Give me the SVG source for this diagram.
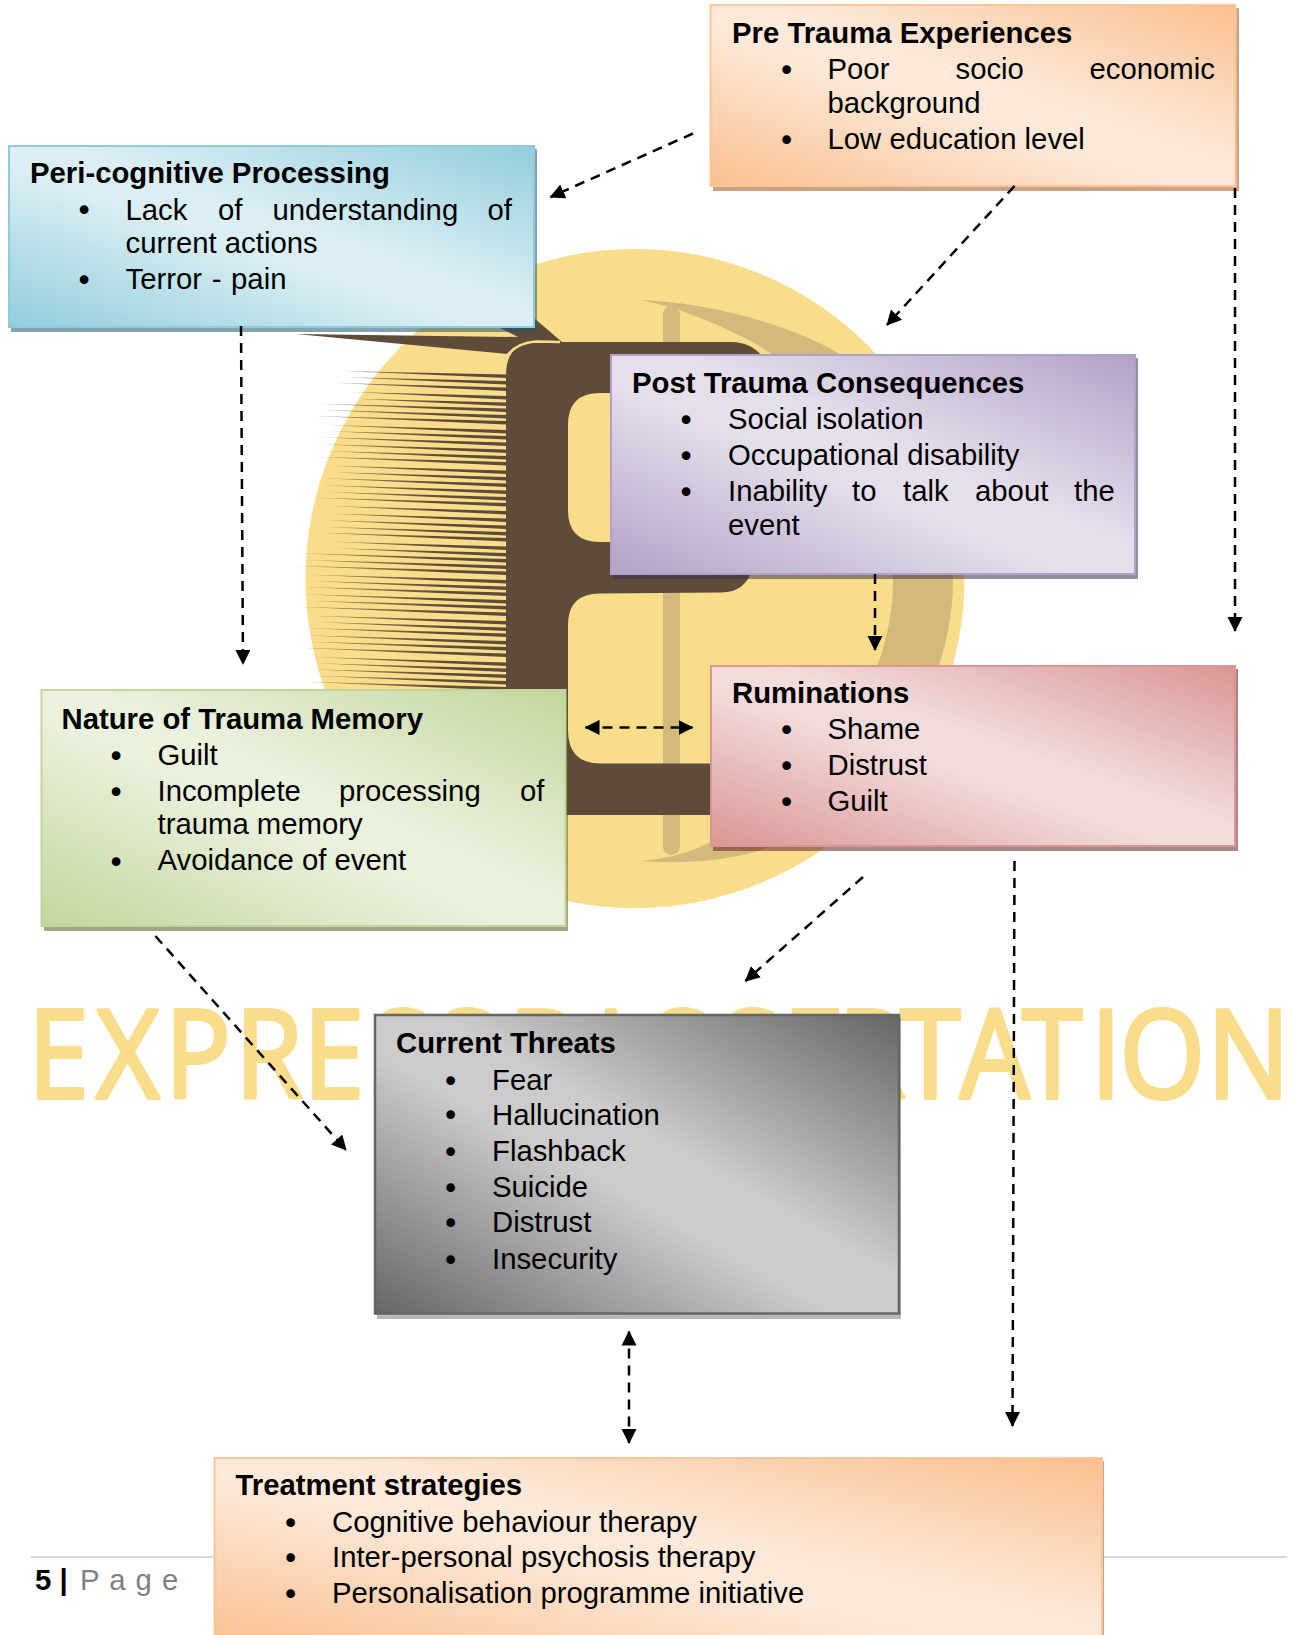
<svg xmlns="http://www.w3.org/2000/svg" width="1294" height="1635" viewBox="0 0 1294 1635">
<style>
text{font-family:"Liberation Sans",Arial,sans-serif;font-size:29.3px;fill:#000}
.t{font-weight:bold}
text.b{font-family:"DejaVu Sans",sans-serif;text-anchor:middle;font-size:30px}
.c{fill:none;stroke:#000;stroke-width:2.5;stroke-dasharray:10 7}
text.mark{font-family:"Open Sans",sans-serif;font-size:122px;fill:#f9dd8b;stroke:#f9dd8b;stroke-width:4;stroke-linejoin:round}
</style>
<defs>
<linearGradient id="gO" x1="0" y1="1" x2="1" y2="0"><stop offset="0" stop-color="#fabf8f"/><stop offset=".44" stop-color="#fde9d9"/><stop offset=".56" stop-color="#fde9d9"/><stop offset="1" stop-color="#fabf8f"/></linearGradient>
<linearGradient id="gB" x1="0" y1="1" x2="1" y2="0"><stop offset="0" stop-color="#92cddc"/><stop offset=".44" stop-color="#daeef3"/><stop offset=".56" stop-color="#daeef3"/><stop offset="1" stop-color="#92cddc"/></linearGradient>
<linearGradient id="gP" x1="0" y1="1" x2="1" y2="0"><stop offset="0" stop-color="#b2a1c7"/><stop offset=".44" stop-color="#e5dfec"/><stop offset=".56" stop-color="#e5dfec"/><stop offset="1" stop-color="#b2a1c7"/></linearGradient>
<linearGradient id="gR" x1="0" y1="1" x2="1" y2="0"><stop offset="0" stop-color="#d99694"/><stop offset=".44" stop-color="#f2dbdb"/><stop offset=".56" stop-color="#f2dbdb"/><stop offset="1" stop-color="#d99694"/></linearGradient>
<linearGradient id="gG" x1="0" y1="1" x2="1" y2="0"><stop offset="0" stop-color="#c2d69b"/><stop offset=".44" stop-color="#eaf1dd"/><stop offset=".56" stop-color="#eaf1dd"/><stop offset="1" stop-color="#c2d69b"/></linearGradient>
<linearGradient id="gK" x1="0" y1="1" x2="1" y2="0"><stop offset="0" stop-color="#666"/><stop offset=".44" stop-color="#ccc"/><stop offset=".56" stop-color="#ccc"/><stop offset="1" stop-color="#666"/></linearGradient>
<linearGradient id="tooth" gradientUnits="userSpaceOnUse" x1="295" y1="0" x2="440" y2="0"><stop offset="0" stop-color="#5e4b3a" stop-opacity=".45"/><stop offset="1" stop-color="#5e4b3a"/></linearGradient>
<marker id="end" markerUnits="userSpaceOnUse" markerWidth="16" markerHeight="16" refX="14" refY="7.5" orient="auto"><path d="M0 0L15 7.5L0 15Z" fill="#000"/></marker>
<marker id="start" markerUnits="userSpaceOnUse" markerWidth="16" markerHeight="16" refX="1" refY="7.5" orient="auto"><path d="M15 0L0 7.5L15 15Z" fill="#000"/></marker>
</defs>
<rect width="1294" height="1635" fill="#fff"/>
<g id="background-logo">
<circle cx="635" cy="578.5" r="329.5" fill="#f9dd8b"/>
<path d="M641 300C720 303 800 330 838 353C910 400 953 490 953 580C953 700 870 810 762 850C720 862 680 864 641 861C680 858 708 846 740 825C830 770 893 680 893 580C893 470 840 395 753 342C720 325 680 308 641 300Z" fill="#d3ba7c"/>
<rect x="663" y="306" width="17" height="549" rx="8.5" fill="#d3ba7c"/>
<path fill-rule="evenodd" fill="#5e4b3a" d="M506 375Q506 342 538 342L732 342Q750 342 762 356L760 500L752 570Q745 592 722 592.5L600 593.5Q568 593.5 568 625L568 730Q568 763.4 600 763.4L712 763.4L712 815L506 815ZM600 393Q568 393 568 425L568 510Q568 542 600 542L640 542L640 393Z"/>
<path fill="#5e4b3a" d="M296 334L518 337L498 327L534 318L562 342L535 342Q515 344 508 354Z"/>
<path fill="none" stroke="#f9dd8b" stroke-width="2.5" d="M507 356Q516 343 536 341.5L560 342"/>
<path fill="url(#tooth)" d="M343.3 371L506 374.5V378ZM346.7 377.3L506 381V384.5ZM337.3 383L506 387.5V391ZM351.7 392L506 396V399.5ZM355 398.7L506 402.5V406ZM319 403.7L506 408.5V412ZM322.3 410L506 415V418.5ZM313.3 416L506 421V424.5ZM327.3 425L506 430V433.5ZM330.7 431.3L506 436V439.5ZM321 437.3L506 442.5V446ZM321.7 444.3L506 449.5V453ZM325 451L506 456V459.5ZM315 456.7L506 462V465.5ZM330 465.7L506 470.5V474ZM333.3 472.3L506 477V480.5ZM323.3 478.3L506 483.5V487ZM322.3 485.3L506 490.5V494ZM326.7 492L506 497V500.5ZM316.7 497.7L506 503V506.5ZM330 506L506 511V514.5ZM333.3 513.7L506 518.5V522ZM325 520.3L506 525.5V529ZM327.7 527L506 532V535.5ZM319 532.7L506 538V541.5ZM333.3 541.7L506 546.5V550ZM336 548.3L506 553V556.5ZM300 553.3L506 559V562.5ZM304.3 560L506 565.5V569ZM294.3 565.7L506 571.5V575ZM309 574.7L506 580V583.5ZM311.7 581L506 586.5V590ZM302.3 587L506 592.5V596ZM303.3 594.3L506 600V603.5ZM306.7 600.7L506 606V609.5ZM296.7 606.7L506 612.5V616ZM311.7 615.7L506 621V624.5ZM315 622L506 627.5V631ZM305 628L506 633.5V637ZM304 635.3L506 641V644.5ZM307.3 641.7L506 647V650.5ZM298.3 647.7L506 653.5V657ZM312.3 657L506 662.5V666ZM315.7 663.3L506 668.5V672ZM309.3 669.3L506 674.5V678ZM313.3 675.7L506 681V684.5ZM303.3 681.7L506 687V690.5Z"/>
<text class="mark" transform="scale(.9 1)" y="1098" x="31 106.7 183 261 337 411 483 544 565 662 722 800 870 931 1000 1066.7 1135.6 1212 1244 1341">EXPRESS DISSERTATION</text>
</g>
<g id="footer">
<rect x="31" y="1556" width="1256" height="2" fill="#d9d9d9"/>
<text x="35" y="1590" class="t">5 | <tspan x="80" style="font-weight:normal;fill:#7f7f7f;letter-spacing:1px">P a g e</tspan></text>
</g>
<g id="pre-trauma">
<rect x="713" y="8" width="526" height="183" fill="#974706" opacity=".5"/>
<rect x="710.5" y="5" width="525" height="181" fill="url(#gO)" stroke="#fbc59a" stroke-width="2"/>
<text class="t" x="732" y="42.7">Pre Trauma Experiences</text>
<text class="b" x="786.5" y="81">•</text><text y="79"><tspan x="827.5">Poor</tspan><tspan x="955.5">socio</tspan><tspan x="1089.5">economic</tspan></text>
<text x="827.5" y="113">background</text>
<text class="b" x="786.5" y="151">•</text><text x="827.5" y="149">Low education level</text>
</g>
<g id="peri-cognitive">
<rect x="11" y="149" width="526" height="183" fill="#205867" opacity=".55"/>
<rect x="9" y="146" width="525" height="181" fill="url(#gB)" stroke="#8fcbd9" stroke-width="2"/>
<text class="t" x="30" y="182.7">Peri-cognitive Processing</text>
<text class="b" x="84" y="221">•</text><text y="220"><tspan x="125.5">Lack</tspan><tspan x="218">of</tspan><tspan x="272.5">understanding</tspan><tspan x="487.5">of</tspan></text>
<text x="125.5" y="253">current actions</text>
<text class="b" x="84" y="290.5">•</text><text x="125.5" y="289" style="word-spacing:1.5px">Terror - pain</text>
</g>
<g id="post-trauma">
<rect x="613" y="358" width="525" height="221" fill="#3f3151" opacity=".55"/>
<rect x="611" y="355" width="524" height="219" fill="url(#gP)" stroke="#b2a1c7" stroke-width="2"/>
<text class="t" x="632" y="393">Post Trauma Consequences</text>
<text class="b" x="686" y="431">•</text><text x="728" y="429">Social isolation</text>
<text class="b" x="686" y="467">•</text><text x="728" y="465">Occupational disability</text>
<text class="b" x="686" y="503">•</text><text y="501"><tspan x="728">Inability</tspan><tspan x="852">to</tspan><tspan x="903">talk</tspan><tspan x="975">about</tspan><tspan x="1074">the</tspan></text>
<text x="728" y="534.5">event</text>
</g>
<g id="ruminations">
<rect x="713" y="669" width="525" height="182" fill="#632423" opacity=".55"/>
<rect x="711" y="666" width="524" height="180" fill="url(#gR)" stroke="#d99694" stroke-width="2"/>
<text class="t" x="732" y="702.5">Ruminations</text>
<text class="b" x="786.5" y="741">•</text><text x="827.5" y="739">Shame</text>
<text class="b" x="786.5" y="777">•</text><text x="827.5" y="775">Distrust</text>
<text class="b" x="786.5" y="813">•</text><text x="827.5" y="811">Guilt</text>
</g>
<g id="trauma-memory">
<rect x="44" y="693" width="524" height="238" fill="#4e6128" opacity=".55"/>
<rect x="41.5" y="690" width="524" height="236" fill="url(#gG)" stroke="#c2d69b" stroke-width="2"/>
<text class="t" x="61.5" y="729">Nature of Trauma Memory</text>
<text class="b" x="116" y="767">•</text><text x="157.5" y="765">Guilt</text>
<text class="b" x="116" y="803">•</text><text y="801"><tspan x="157.5">Incomplete</tspan><tspan x="339">processing</tspan><tspan x="520">of</tspan></text>
<text x="157.5" y="833.5">trauma memory</text>
<text class="b" x="116" y="872.5">•</text><text x="157.5" y="870">Avoidance of event</text>
</g>
<g id="current-threats">
<rect x="377" y="1018" width="524" height="301" fill="#000" opacity=".28"/>
<rect x="375" y="1015" width="524" height="298.5" fill="url(#gK)" stroke="#666" stroke-width="2.5"/>
<text class="t" x="396" y="1052.7">Current Threats</text>
<text class="b" x="450.5" y="1092">•</text><text x="492" y="1090">Fear</text>
<text class="b" x="450.5" y="1126">•</text><text x="492" y="1124.5">Hallucination</text>
<text class="b" x="450.5" y="1163">•</text><text x="492" y="1161">Flashback</text>
<text class="b" x="450.5" y="1198.5">•</text><text x="492" y="1196.5">Suicide</text>
<text class="b" x="450.5" y="1234">•</text><text x="492" y="1232">Distrust</text>
<text class="b" x="450.5" y="1271">•</text><text x="492" y="1269">Insecurity</text>
</g>
<g id="treatment">
<rect x="216" y="1461" width="888" height="190" fill="#974706" opacity=".5"/>
<rect x="214.5" y="1458" width="887.5" height="190" fill="url(#gO)" stroke="#fbc59a" stroke-width="2"/>
<text class="t" x="235.5" y="1495">Treatment strategies</text>
<text class="b" x="290.5" y="1533.5">•</text><text x="332" y="1531.5">Cognitive behaviour therapy</text>
<text class="b" x="290.5" y="1568.5">•</text><text x="332" y="1566.5">Inter-personal psychosis therapy</text>
<text class="b" x="290.5" y="1604.5">•</text><text x="332" y="1602.5">Personalisation programme initiative</text>
</g>
<g id="connectors">
<line class="c" x1="693" y1="133.5" x2="550.5" y2="197" marker-end="url(#end)"/>
<line class="c" x1="1014.5" y1="186" x2="887" y2="325" marker-end="url(#end)"/>
<line class="c" x1="1235" y1="188" x2="1235" y2="631" marker-end="url(#end)"/>
<line class="c" x1="241" y1="326" x2="243" y2="664" marker-end="url(#end)"/>
<line class="c" x1="875" y1="574" x2="875" y2="650" marker-end="url(#end)"/>
<line class="c" x1="585.5" y1="727.4" x2="692.5" y2="727.4" marker-start="url(#start)" marker-end="url(#end)"/>
<line class="c" x1="863" y1="877" x2="745.5" y2="981" marker-end="url(#end)"/>
<line class="c" x1="1014.5" y1="861" x2="1012.5" y2="1426" marker-end="url(#end)"/>
<line class="c" x1="155.4" y1="936" x2="346" y2="1150" marker-end="url(#end)"/>
<line class="c" x1="629" y1="1331.5" x2="629" y2="1443" marker-start="url(#start)" marker-end="url(#end)"/>
</g>
</svg>
